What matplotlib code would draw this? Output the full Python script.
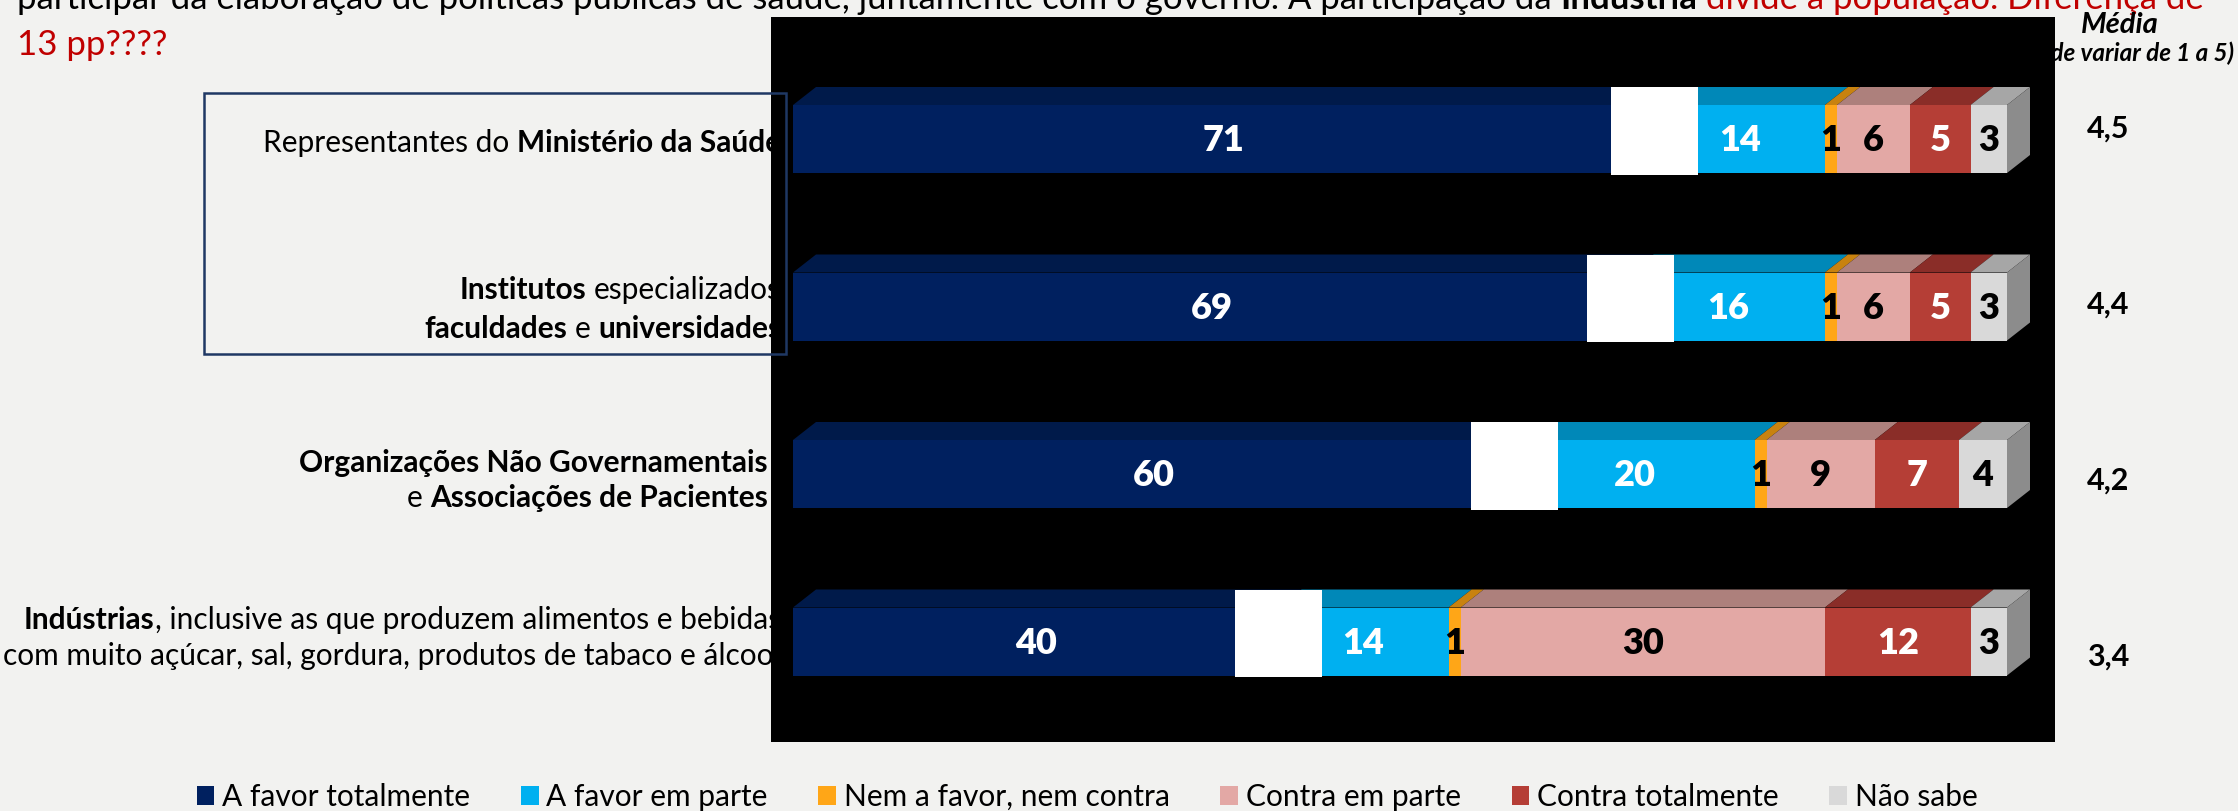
import matplotlib
matplotlib.use("Agg")
import matplotlib.pyplot as plt
from matplotlib.patches import Polygon, Rectangle, Patch
from matplotlib.transforms import IdentityTransform

W, H, DPI = 2238, 811, 100
BG = "#F2F2F0"
FONT = "Lato"

# ---- data ----
series = ["A favor totalmente", "A favor em parte", "Nem a favor, nem contra",
          "Contra em parte", "Contra totalmente", "Não sabe"]
a_favor_totalmente = [71, 69, 60, 40]
a_favor_em_parte = [14, 16, 20, 14]
nem_a_favor_nem_contra = [1, 1, 1, 1]
contra_em_parte = [6, 6, 9, 30]
contra_totalmente = [5, 5, 7, 12]
nao_sabe = [3, 3, 4, 3]
medias = ["4,5", "4,4", "4,2", "3,4"]

# row labels: lines of (text, weight) parts
row_labels = [
    [[("Representantes do ", "normal"), ("Ministério da Saúde", "bold")]],
    [[("Institutos", "bold"), (" especializados", "normal")],
     [("faculdades", "bold"), (" e ", "normal"), ("universidades", "bold")]],
    [[("Organizações Não Governamentais", "bold")],
     [("e ", "normal"), ("Associações de Pacientes", "bold")]],
    [[("Indústrias", "bold"), (", inclusive as que produzem alimentos e bebidas", "normal")],
     [("com muito açúcar, sal, gordura, produtos de tabaco e álcool", "normal")]],
]

front = ["#00205F", "#00B0F0", "#FFA617", "#E3A8A5", "#B53E36", "#D9D9D9"]
top = ["#001A4A", "#0088B8", "#C8820F", "#AD807C", "#8A2D28", "#A6A6A6"]
txt_col = ["white", "white", "black", "black", "white", "black"]

values = [a_favor_totalmente, a_favor_em_parte, nem_a_favor_nem_contra,
          contra_em_parte, contra_totalmente, nao_sabe]

fig = plt.figure(figsize=(W / DPI, H / DPI), dpi=DPI, facecolor=BG)
renderer = fig.canvas.get_renderer()
PX = IdentityTransform()


def fx(p):
    return p / W


def fy(p):
    return 1 - p / H


def text_width(s, **kw):
    t1 = fig.text(0, 0, "x" + s + "x", transform=PX, **kw)
    t2 = fig.text(0, 0, "xx", transform=PX, **kw)
    w = t1.get_window_extent(renderer).width - t2.get_window_extent(renderer).width
    t1.remove()
    t2.remove()
    return w


def rich(x, y, parts, ha="left", **kw):
    # parts: (text, weight, color)
    widths = [text_width(s, fontweight=wt, **kw) for s, wt, c in parts]
    x0 = x - sum(widths) if ha == "right" else x
    for (s, wt, c), w in zip(parts, widths):
        lead = len(s) - len(s.lstrip(" "))
        lead_w = text_width(" " * lead, fontweight=wt, **kw) if lead else 0
        fig.text(x0 + lead_w, H - y, s.strip(" "), transform=PX, fontweight=wt,
                 color=c, ha="left", va="baseline", **kw)
        x0 += w


# ---- chart area (black panel) ----
ax = fig.add_axes([fx(771), fy(742), (2055 - 771) / W, (742 - 17) / H])
ax.set_facecolor("black")
ax.set_zorder(3)
ax.set_xticks([])
ax.set_yticks([])
for s in ax.spines.values():
    s.set_visible(False)

ppu_x = 12.14          # pixels per percent
pitch = 167.5          # pixels per row
ax.set_xlim(-22 / ppu_x, (2055 - 793) / ppu_x)
ax.set_ylim((742 - 139) / pitch, (17 - 139) / pitch)

bar_h = 68 / pitch
dx = 23 / ppu_x
dy = 18 / pitch
box_w = 87 / ppu_x

for i in range(len(a_favor_totalmente)):
    row = [v[i] for v in values]
    total = sum(row)
    left = 0
    t = i - bar_h / 2
    b = i + bar_h / 2
    for j, v in enumerate(row):
        w = v / total * 100
        ax.barh(i, w, left=left, height=bar_h, color=front[j], linewidth=0, zorder=2)
        ax.add_patch(Polygon([(left, t), (left + w, t), (left + w + dx, t - dy),
                              (left + dx, t - dy)], closed=True, fc=top[j],
                             lw=0, zorder=2))
        ax.text(left + w / 2, i + 0.01, str(v), ha="center", va="center",
                fontsize=26, fontweight="heavy", color=txt_col[j], family=FONT,
                zorder=4)
        left += w
    ax.add_patch(Polygon([(left, t), (left + dx, t - dy), (left + dx, b - dy),
                          (left, b)], closed=True, fc="#8C8C8C", lw=0, zorder=2))
    # white placeholder box at the first boundary
    x_b = row[0] / total * 100
    ax.add_patch(Rectangle((x_b - box_w / 2, t - dy), box_w, bar_h + dy + 0.01,
                           fc="white", lw=0, zorder=5))

# ---- row labels (partly hidden under the panel) ----
label_base = [[152], [299, 338], [472, 507], [629, 665]]
label_right = [781, 781, 768, 781]
for lines, ys, xr in zip(row_labels, label_base, label_right):
    for parts, yb in zip(lines, ys):
        rich(xr, yb, [(s, wt, "black") for s, wt in parts], ha="right",
             fontsize=21.5, family=FONT, zorder=1)

fig.add_artist(Rectangle((fx(204), fy(354)), (786 - 204) / W, (354 - 93) / H,
                         transform=fig.transFigure, fill=False, ec="#1F3864",
                         lw=1.8, zorder=10))

# ---- header ----
rich(17, 9, [("participar da elaboração de políticas públicas de saúde, juntamente com o governo. A participação da ", "normal", "black"),
             ("Indústria", "bold", "black"),
             (" divide a população. Diferença de", "normal", "#C00000")],
     fontsize=25, family=FONT, zorder=1)
rich(17, 55, [("13 pp????", "normal", "#C00000")], fontsize=25, family=FONT, zorder=1)

# ---- média column ----
fig.text(2120, H - 33, "Média", transform=PX, ha="center", va="baseline",
         fontsize=21, fontweight="bold", style="italic", family=FONT, zorder=2)
fig.text(2234, H - 61, "(pode variar de 1 a 5)", transform=PX, ha="right",
         va="baseline", fontsize=17.5, fontweight="bold", style="italic",
         family=FONT, zorder=1)
for i, m in enumerate(medias):
    fig.text(2108, H - (138 + 175.7 * i), m, transform=PX, ha="center",
             va="baseline", fontsize=22, fontweight="bold", family=FONT, zorder=1)

# ---- legend ----
handles = [Patch(fc=c, ec="none") for c in front]
fig.legend(handles, series, loc="center", bbox_to_anchor=(fx(1087), fy(797)),
           ncol=6, frameon=False, prop={"family": FONT, "size": 21.5},
           handlelength=0.6, handleheight=0.6, handletextpad=0.25,
           columnspacing=1.7)

fig.savefig("out.png", dpi=DPI, facecolor=BG)
